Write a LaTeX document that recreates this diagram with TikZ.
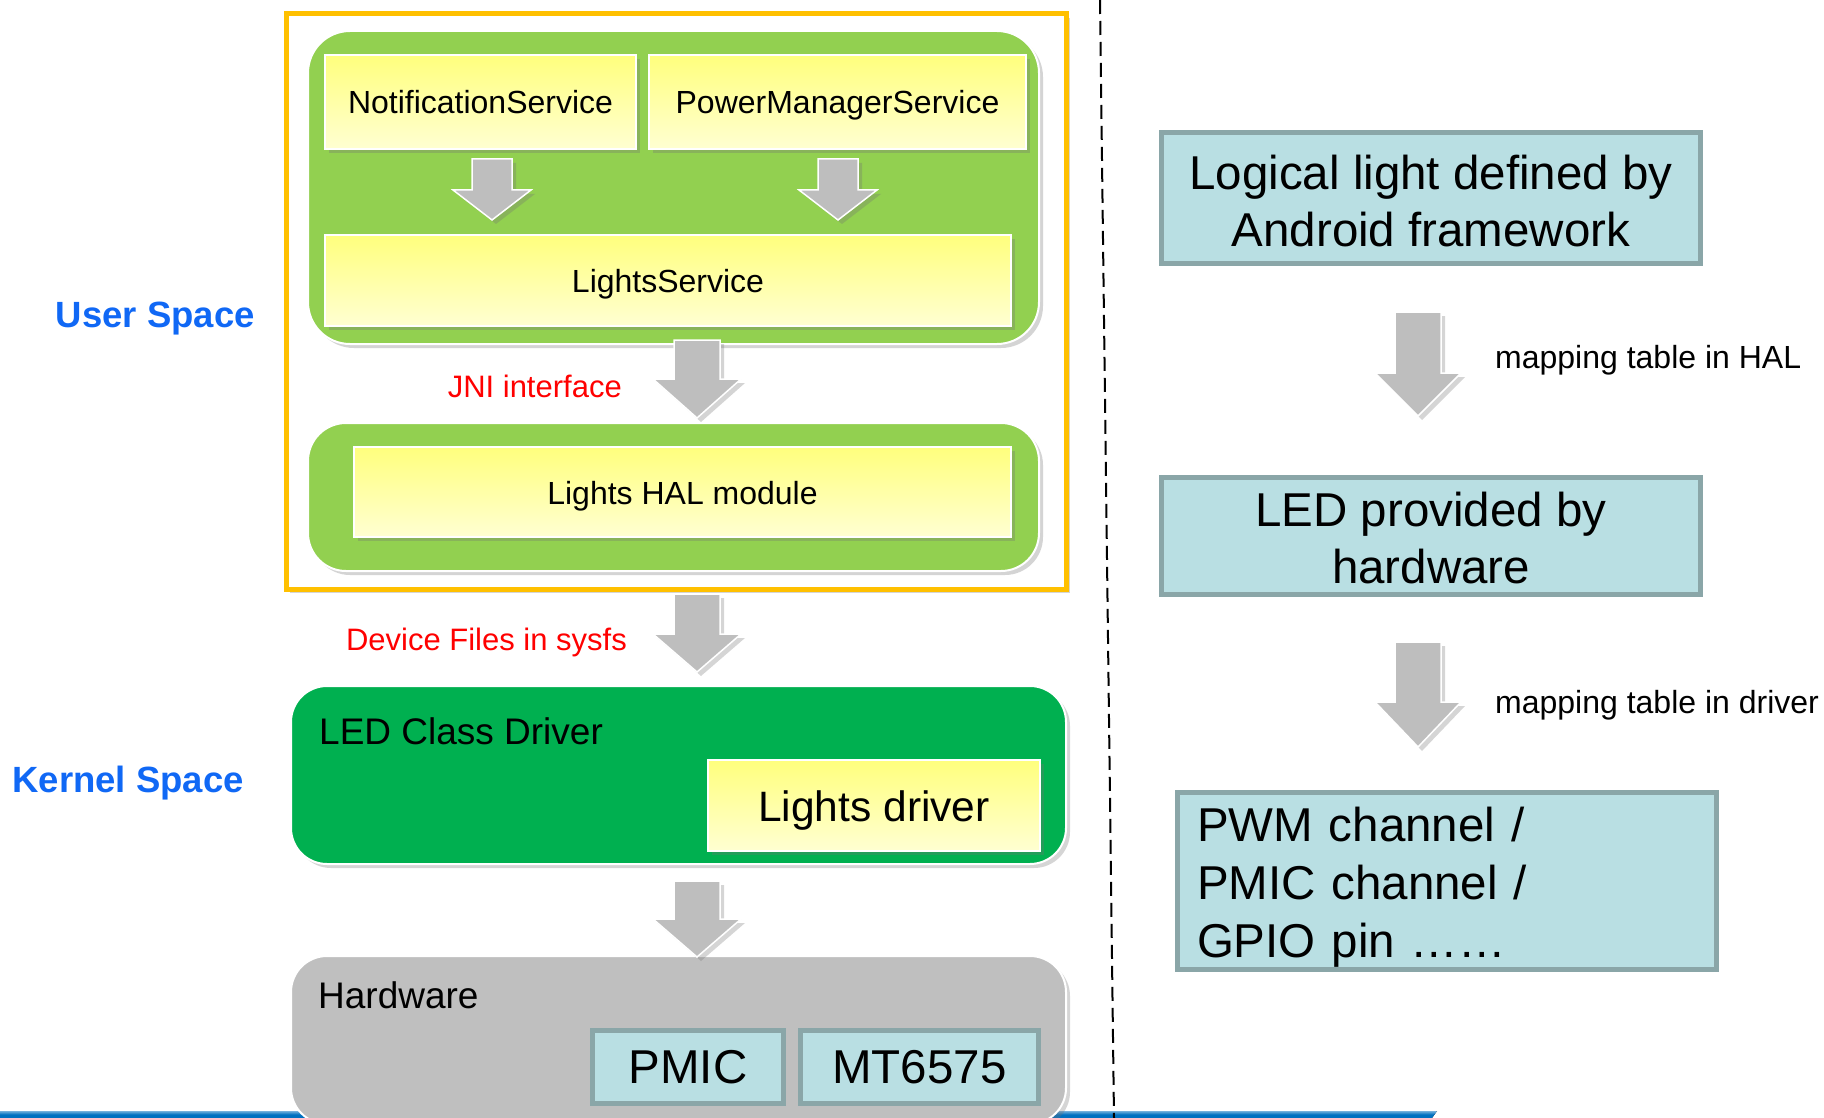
\documentclass[tikz,border=0pt]{standalone}
\usepackage{fontspec}
\setmainfont{Liberation Sans}
\usetikzlibrary{calc,shadows}
\definecolor{framegold}{RGB}{255,192,0}
\definecolor{leafgreen}{RGB}{146,208,80}
\definecolor{kerngreen}{RGB}{0,176,80}
\definecolor{hwgrey}{RGB}{191,191,191}
\definecolor{arrowgrey}{RGB}{190,190,190}
\definecolor{paleaqua}{RGB}{185,223,227}
\definecolor{aquaedge}{RGB}{138,166,168}
\definecolor{lemontop}{RGB}{255,255,125}
\definecolor{lemonbot}{RGB}{255,255,210}
\definecolor{spaceblue}{RGB}{16,104,245}
\definecolor{barblue}{RGB}{0,112,192}
\tikzset{
  softshadow/.style={drop shadow={shadow xshift=4pt, shadow yshift=-4pt, opacity=0.3, fill=black!55}},
  oneline/.style 2 args={text height=#1, text depth=#2},
  layer/.style ={draw=white, line width=2pt, rounded corners=42pt, softshadow, inner sep=0pt},
  svc/.style   ={draw=white, line width=1.5pt, top color=lemontop, bottom color=lemonbot,
                 softshadow, inner sep=0pt, oneline={29pt}{5pt}, font=\fontsize{32}{38}\selectfont},
  chip/.style  ={draw=aquaedge, line width=5pt, fill=paleaqua, inner sep=0pt, align=center,
                 font=\fontsize{47.5}{57}\selectfont},
  fat arrow/.style n args={3}{fill=arrowgrey, draw=white, line width=1.5pt, softshadow,
                 to path={let \p1=(\tikztostart), \p2=(\tikztotarget) in
                   (\x1-#1,\y1) -- (\x1-#1,\y2+#3) -- (\x1-#2,\y2+#3) -- (\x1,\y2)
                   -- (\x1+#2,\y2+#3) -- (\x1+#1,\y2+#3) -- (\x1+#1,\y1) -- cycle}},
  redlbl/.style ={text=red, inner sep=0pt, oneline={28pt}{6.6pt}, font=\fontsize{31}{36}\selectfont},
  spacelbl/.style={text=spaceblue, inner sep=0pt, oneline={33pt}{6pt}, font=\bfseries\fontsize{36.5}{42}\selectfont},
  maplbl/.style ={inner sep=0pt, oneline={29pt}{5pt}, font=\fontsize{32}{38}\selectfont},
  boxlbl/.style ={inner sep=0pt, font=\fontsize{37}{42}\selectfont},
  sepline/.style={line width=2pt, dash pattern=on 14pt off 7pt},
}

\begin{document}
\begin{tikzpicture}[x=1pt,y=-1pt]
\useasboundingbox (0,0) rectangle (1824,1118);

% bottom bar
\fill[top color=barblue!55, bottom color=barblue, middle color=barblue] (0,1111) -- (1437,1111) -- (1432,1118) -- (0,1118) -- cycle;

% user space
\node[draw=framegold, line width=5pt, fill=white, softshadow, minimum width=780pt, minimum height=575pt] (frame) at (676,301.5) {};
\node[layer, fill=leafgreen, minimum width=731pt, minimum height=313pt] (fwlayer) at (673.5,187.5) {};
\node[svc, minimum width=311pt, minimum height=94pt] (notif) at (480.5,102) {NotificationService};
\node[svc, minimum width=377pt, minimum height=94pt] (power) at (837.5,102) {PowerManagerService};
\node[svc, minimum width=686pt, minimum height=91pt] (lights) at (668,280.5) {LightsService};
\node[layer, fill=leafgreen, rounded corners=38pt, minimum width=731pt, minimum height=148pt] (hallayer) at (673.5,497) {};
\node[svc, minimum width=657pt, minimum height=90pt] (hal) at (682.5,492) {Lights HAL module};

% kernel space
\node[layer, fill=kerngreen, rounded corners=36pt, minimum width=775pt, minimum height=178pt] (ledclass) at (678.5,775) {};
\node[boxlbl, anchor=west] (ledclasslbl) at (319,731) {LED Class Driver};
\node[svc, font=\fontsize{42.5}{48}\selectfont, oneline={38.5pt}{7pt}, minimum width=332pt, minimum height=91pt] (ldrv) at (874,805.5) {Lights driver};

% hardware
\node[layer, fill=hwgrey, rounded corners=36pt, minimum width=775pt, minimum height=168pt] (hw) at (678.5,1040) {};
\node[boxlbl, anchor=west] (hwlbl) at (318,995) {Hardware};
\node[chip, minimum width=191pt, minimum height=73pt] (pmic) at (688,1067) {PMIC};
\node[chip, minimum width=238pt, minimum height=73pt] (mt) at (919.5,1067) {MT6575};

\coordinate (sepTop) at (1100,0);
\coordinate (sepBot) at (1114,1118);
\draw[sepline] (sepTop) -- (sepBot);

% arrows
\coordinate (a1s) at (492,159);  \coordinate (a1e) at (492,220);
\coordinate (a2s) at (838,159);  \coordinate (a2e) at (838,220);
\coordinate (a3s) at (697,340);  \coordinate (a3e) at (697,418);
\coordinate (a4s) at (697,594);  \coordinate (a4e) at (697,672);
\coordinate (a5s) at (697,881);  \coordinate (a5e) at (697,957);
\path[fat arrow={20pt}{39pt}{30pt}] (a1s) to (a1e);
\path[fat arrow={20pt}{39pt}{30pt}] (a2s) to (a2e);
\path[fat arrow={23pt}{44pt}{39pt}] (a3s) to (a3e);
\path[fat arrow={23pt}{44pt}{38pt}] (a4s) to (a4e);
\path[fat arrow={23pt}{44pt}{38pt}] (a5s) to (a5e);

\node[redlbl, anchor=east] (jni) at (622,387) {JNI interface};
\node[redlbl, anchor=east] (sysfs) at (627,640) {Device Files in sysfs};
\node[spacelbl, anchor=east] (userlbl) at (255,314) {User Space};
\node[spacelbl, anchor=east] (kernlbl) at (244,779) {Kernel Space};

% right column
\node[chip, oneline={100pt}{3.6pt}, minimum width=539pt, minimum height=131pt] (logic) at (1431,198) {Logical light defined by\\Android framework};
\node[chip, oneline={100pt}{6pt}, minimum width=539pt, minimum height=117pt] (ledhw) at (1431,536) {LED provided by\\hardware};
\node[chip, font=\fontsize{47.5}{58.2}\selectfont, align=left, inner xsep=19.5pt, text width=500pt, oneline={43pt}{123pt}, minimum height=177pt] (pins) at (1447,881) {PWM channel /\\PMIC channel /\\GPIO pin ……};
\coordinate (a6s) at (1418,312); \coordinate (a6e) at (1418,416);
\coordinate (a7s) at (1418,642); \coordinate (a7e) at (1418,747);
\path[fat arrow={23pt}{43pt}{43pt}] (a6s) to (a6e);
\path[fat arrow={23pt}{43pt}{45pt}] (a7s) to (a7e);
\node[maplbl, anchor=west] (maphal) at (1495,356) {mapping table in HAL};
\node[maplbl, anchor=west] (mapdrv) at (1495,701) {mapping table in driver};
\end{tikzpicture}
\end{document}
